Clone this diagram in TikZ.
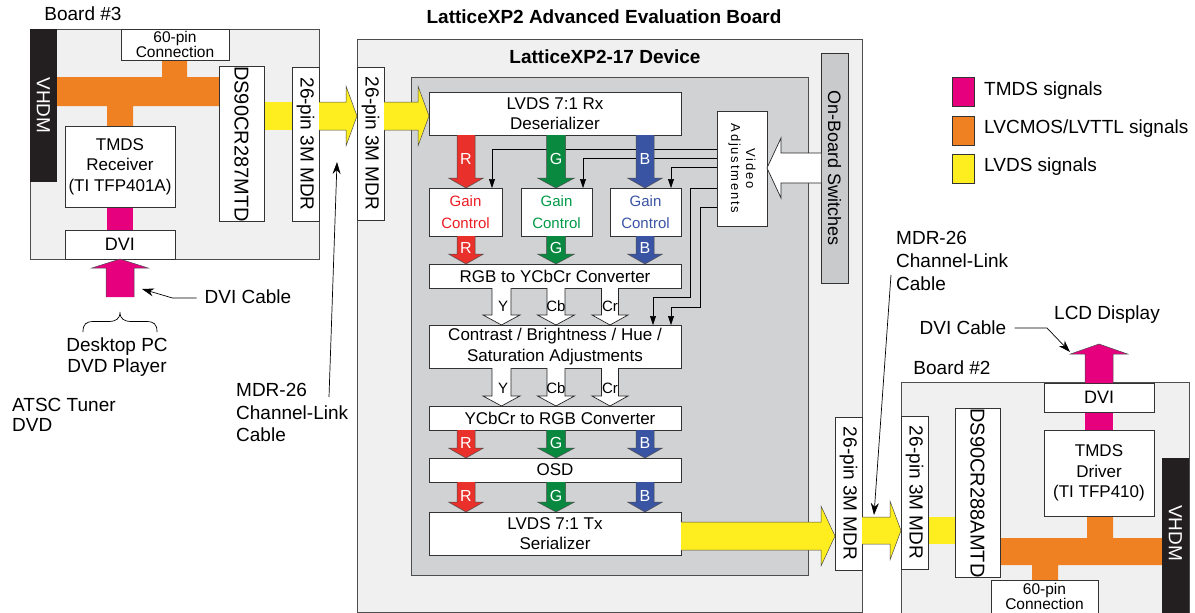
\documentclass[tikz,border=0pt]{standalone}
\usepackage{fontspec}
\setmainfont{Liberation Sans}
\usetikzlibrary{arrows.meta}
\definecolor{boardgray}{HTML}{F0F0F0}
\definecolor{devgray}{HTML}{D1D2D4}
\definecolor{swgray}{HTML}{C9CACC}
\definecolor{boardline}{HTML}{4D4D4D}
\definecolor{boxline}{HTML}{333333}
\definecolor{tmds}{HTML}{E6007E}
\definecolor{lvcmos}{HTML}{F08122}
\definecolor{lvds}{HTML}{FFEE1F}
\definecolor{rr}{HTML}{E9302A}
\definecolor{gg}{HTML}{08893F}
\definecolor{bb}{HTML}{3A54A4}
\definecolor{rtext}{HTML}{ED1C24}
\definecolor{gtext}{HTML}{009A48}
\definecolor{btext}{HTML}{3A54A4}
\definecolor{vhdm}{HTML}{231F20}
\newcommand\fs[2]{\fontsize{#1}{#2}\selectfont}
% fat arrows: #1 x/pos, #2 start, #3 tip, #4 shaft half, #5 head half, #6 head length, #7 style
\newcommand\fatdown[7]{\path[#7] (#1-#4,#2) -- (#1-#4,#3-#6) -- (#1-#5,#3-#6) -- (#1,#3) -- (#1+#5,#3-#6) -- (#1+#4,#3-#6) -- (#1+#4,#2);}
\newcommand\fatup[7]{\path[#7] (#1-#4,#2) -- (#1-#4,#3+#6) -- (#1-#5,#3+#6) -- (#1,#3) -- (#1+#5,#3+#6) -- (#1+#4,#3+#6) -- (#1+#4,#2);}
% horizontal: #1 y, #2 start x, #3 tip x
\newcommand\fatright[7]{\path[#7] (#2,#1-#4) -- (#3-#6,#1-#4) -- (#3-#6,#1-#5) -- (#3,#1) -- (#3-#6,#1+#5) -- (#3-#6,#1+#4) -- (#2,#1+#4);}
\newcommand\fatleft[7]{\path[#7] (#2,#1-#4) -- (#3+#6,#1-#4) -- (#3+#6,#1-#5) -- (#3,#1) -- (#3+#6,#1+#5) -- (#3+#6,#1+#4) -- (#2,#1+#4);}
\begin{document}
\begin{tikzpicture}[x=1pt,y=-1pt,
  board/.style={draw=boardline, fill=boardgray, line width=1.1pt, inner sep=0pt, anchor=north west},
  box/.style={draw=boxline, fill=white, line width=0.8pt, inner sep=0pt, align=center, font=\fs{17}{20.5}},
  rbox/.style={box, rotate=-90},
  ann/.style={font=\fs{19}{22}, align=left, inner sep=0pt},
  chan/.style={text=white, font=\fs{16}{18}, inner sep=0pt},
  ylab/.style={font=\fs{15}{17}, inner sep=0pt},
  thinarrow/.style={-{Triangle[length=9pt,width=6pt]}, line width=0.6pt, draw=black},
  callout/.style={-{Stealth[length=12pt,width=8pt]}, line width=0.7pt, draw=black},
  fatcol/.style={fill=#1, draw=black!70, line width=0.5pt},
  fatwhite/.style={fill=white, draw=black!85, line width=0.7pt},
  sig/.style={fill=#1, draw=none},
  legsq/.style={draw=boxline, line width=0.8pt, fill=#1, minimum width=22, minimum height=29, inner sep=0pt, anchor=north west}
]
\useasboundingbox (0,0) rectangle (1195,613);

% ================= Board #3 =================
\node[font=\fs{19}{22}, inner sep=0pt] (b3lab) at (83,14) {Board \#3};
\node[board, minimum width=289, minimum height=230] (b3) at (30,29) {};
\node[fill=vhdm, rotate=-90, minimum width=153, minimum height=27, inner sep=0pt, text=white, font=\fs{19}{22}] (vh3) at (43.5,105.5) {VHDM};
\path[sig=lvcmos] (57,77) -- (162,77) -- (162,60) -- (187,60) -- (187,77) -- (219,77) -- (219,106) -- (133,106) -- (133,126) -- (107,126) -- (107,106) -- (57,106) -- cycle;
\path[sig=tmds] (107,207) rectangle (133,230);
\path[sig=lvds] (264,102) rectangle (292,130);
\node[box, minimum width=108, minimum height=31, font=\fs{15.5}{14}] (pin3) at (175,44.5) {60-pin\\Connection};
\node[box, minimum width=110, minimum height=81] (rcv) at (120,166.5) {TMDS\\Receiver\\(TI TFP401A)};
\node[box, minimum width=110, minimum height=29, font=\fs{18}{20}] (dvi3) at (120,244.5) {DVI};
\node[rbox, minimum width=154, minimum height=45, font=\fs{20}{22}] (ds1) at (241.5,144) {DS90CR287MTD};
\node[rbox, minimum width=154, minimum height=27, font=\fs{19}{22}] (mdr1) at (305.5,144) {26-pin 3M MDR};

% DVI input
\fatup{120}{297}{259}{14}{28}{9}{fatcol=tmds}
\node[ann] (dvic1) at (248,297) {DVI Cable};
\coordinate (dvic1a) at (142,289);
\draw[callout] (dvic1.west) ++(-8,1) -- ++(-24,0) -- (dvic1a);
\draw[line width=0.7pt] (83,332) .. controls (83,324) and (86,321.5) .. (94,321.5) -- (108,321.5) .. controls (116,321.5) and (120,319) .. (120,312)
  .. controls (120,319) and (124,321.5) .. (132,321.5) -- (146,321.5) .. controls (154,321.5) and (157,324) .. (157,332);
\node[ann, align=center, font=\fs{19}{21}] (pc) at (117,357) {Desktop PC\\DVD Player};
\node[ann, anchor=west, font=\fs{19}{20.5}] (atsc) at (12,415) {ATSC Tuner\\DVD};
\node[ann, anchor=west, font=\fs{19}{22.5}] (mdrc1) at (236,412.5) {MDR-26\\Channel-Link\\Cable};
\coordinate (mdrc1a) at (337,162);
\draw[callout] (329,397) -- (mdrc1a);

% ================= Main board =================
\node[font=\bfseries\fs{19}{22}, inner sep=0pt] (title) at (604,17) {LatticeXP2 Advanced Evaluation Board};
\node[board, minimum width=505, minimum height=573] (mb) at (357,39) {};
\node[board, fill=devgray, minimum width=397, minimum height=498] (dev) at (411,77) {};
\node[font=\bfseries\fs{19}{22}, inner sep=0pt] (devlab) at (605,57) {LatticeXP2-17 Device};
\node[rbox, fill=swgray, minimum width=230, minimum height=27, font=\fs{18}{20}] (sw) at (834.5,168) {On-Board Switches};
\node[rbox, minimum width=153, minimum height=27, font=\fs{19}{22}] (mdr2) at (370.5,143.5) {26-pin 3M MDR};
\node[rbox, minimum width=153, minimum height=27, font=\fs{19}{22}] (mdr3) at (848.5,493.5) {26-pin 3M MDR};

% LVDS arrows
\fatright{116}{319}{357}{14}{30}{11}{fatcol=lvds}
\fatright{116}{384}{429}{14}{30}{11}{fatcol=lvds}

% video adjustment control lines (behind arrows)
\node[rbox, minimum width=115, minimum height=50, font=\fs{13}{15}\addfontfeature{LetterSpace=14}] (va) at (742,168.5) {Video\\Adjustments};
\draw[thinarrow] (va.south |- 0,149) -| (492,188);
\draw[thinarrow] (va.south |- 0,158) -| (583,188);
\draw[thinarrow] (va.south |- 0,167) -| (671,188);
\draw[thinarrow] (va.south |- 0,188) -- (690,188) -- (690,297) -- (653,297) -- (653,325);
\draw[thinarrow] (va.south |- 0,207) -- (700,207) -- (700,307) -- (671,307) -- (671,325);
\fatleft{168}{821}{767}{15}{30}{14}{fatwhite}

% blocks
\node[box, minimum width=252, minimum height=43] (rx) at (555,113.5) {LVDS 7:1 Rx\\Deserializer};
\node[box, minimum width=73, minimum height=48, font=\fs{15}{22}, text=rtext] (gr) at (465.5,212) {Gain\\Control};
\node[box, minimum width=71, minimum height=48, font=\fs{15}{22}, text=gtext] (gg) at (556.5,212) {Gain\\Control};
\node[box, minimum width=71, minimum height=48, font=\fs{15}{22}, text=btext] (gb) at (645.5,212) {Gain\\Control};
\node[box, minimum width=252, minimum height=24] (r2y) at (555,276) {RGB to YCbCr Converter};
\node[box, minimum width=252, minimum height=43] (cbh) at (555,346.5) {Contrast / Brightness / Hue /\\Saturation Adjustments};
\node[box, minimum width=252, minimum height=24] (y2r) at (555,418) {\hspace*{10pt}YCbCr to RGB Converter};
\node[box, minimum width=252, minimum height=24] (osd) at (555,470) {OSD};
\node[box, minimum width=252, minimum height=43] (tx) at (555,533.5) {LVDS 7:1 Tx\\Serializer};

% RGB arrows
\foreach \ya/\yb/\yl in {135/188/159, 236/264/248, 430/458/443, 482/512/496}{
  \fatdown{466}{\ya}{\yb}{9}{17.5}{10}{fatcol=rr}
  \fatdown{556}{\ya}{\yb}{9.5}{18.5}{10}{fatcol=gg}
  \fatdown{645}{\ya}{\yb}{9}{17.5}{10}{fatcol=bb}
  \node[chan] at (466,\yl) {R};
  \node[chan] at (556,\yl) {G};
  \node[chan] at (645,\yl) {B};
}
% YCbCr arrows
\foreach \ya/\yb/\yl in {288/325/306, 368/406/388}{
  \fatdown{501.5}{\ya}{\yb}{9.5}{18.5}{10}{fatwhite}
  \fatdown{556}{\ya}{\yb}{9}{18.5}{10}{fatwhite}
  \fatdown{610}{\ya}{\yb}{8.5}{18}{10}{fatwhite}
  \node[ylab] at (503,\yl) {Y};
  \node[ylab] at (556,\yl) {Cb};
  \node[ylab] at (610,\yl) {Cr};
}

% LVDS out
\fatright{536}{681}{835}{14}{30}{14}{fatcol=lvds}
\fatright{530.5}{862}{901}{13.5}{29.5}{11}{fatcol=lvds}

% ================= Board #2 =================
\node[font=\fs{19}{22}, inner sep=0pt] (b2lab) at (952,368) {Board \#2};
\node[board, minimum width=288, minimum height=240] (b2) at (901,382) {};
\path[sig=lvds] (928,517) rectangle (955,544);
\path[sig=lvcmos] (1000,538) -- (1087,538) -- (1087,516) -- (1113,516) -- (1113,538) -- (1162,538) -- (1162,565) -- (1058,565) -- (1058,580) -- (1032,580) -- (1032,565) -- (1000,565) -- cycle;
\path[sig=tmds] (1085,412) rectangle (1113,430);
\node[fill=vhdm, rotate=-90, minimum width=162, minimum height=27, inner sep=0pt, text=white, font=\fs{19}{22}] (vh2) at (1175.5,539) {};
\node[text=white, rotate=-90, font=\fs{19}{22}, inner sep=0pt] (vh2t) at (1175.5,533) {VHDM};
\node[rbox, minimum width=153, minimum height=27, font=\fs{19}{22}] (mdr4) at (914.5,492.5) {26-pin 3M MDR};
\node[rbox, minimum width=162, minimum height=45, font=\fs{20}{22}] (ds2) at (977.5,493) {DS90CR288AMTD};
\node[box, minimum width=110, minimum height=86] (drv) at (1099,473) {TMDS\\Driver\\(TI TFP410)};
\node[box, minimum width=110, minimum height=29, font=\fs{18}{20}] (dvi2) at (1099,397.5) {DVI};
\node[box, minimum width=107, minimum height=40, anchor=north west] (pin2) at (991,580) {};
\node[font=\fs{15.5}{14}, align=center, inner sep=0pt, anchor=north] (pin2t) at (1044.5,583) {60-pin\\Connection};
\fatup{1099}{383}{344}{14}{28.5}{10}{fatcol=tmds}

% annotations right
\node[ann] (lcd) at (1107,315) {LCD Display};
\node[ann] (dvic2) at (963,328) {DVI Cable};
\coordinate (dvic2a) at (1070,352);
\draw[callout] (dvic2.east) ++(8,0) -- (1047,328) -- (dvic2a);
\node[ann, anchor=west, font=\fs{19}{23}] (mdrc2) at (896,261) {MDR-26\\Channel-Link\\Cable};
\coordinate (mdrc2a) at (874,515);
\draw[callout] (891,275) -- (mdrc2a);

% ================= Legend =================
\node[legsq=tmds] (lg1) at (952,77) {};
\node[legsq=lvcmos] (lg2) at (952,116) {};
\node[legsq=lvds] (lg3) at (952,154) {};
\node[ann, anchor=west] (lt1) at (984,91) {TMDS signals};
\node[ann, anchor=west] (lt2) at (984,129) {LVCMOS/LVTTL signals};
\node[ann, anchor=west] (lt3) at (984,167) {LVDS signals};
\end{tikzpicture}
\end{document}
